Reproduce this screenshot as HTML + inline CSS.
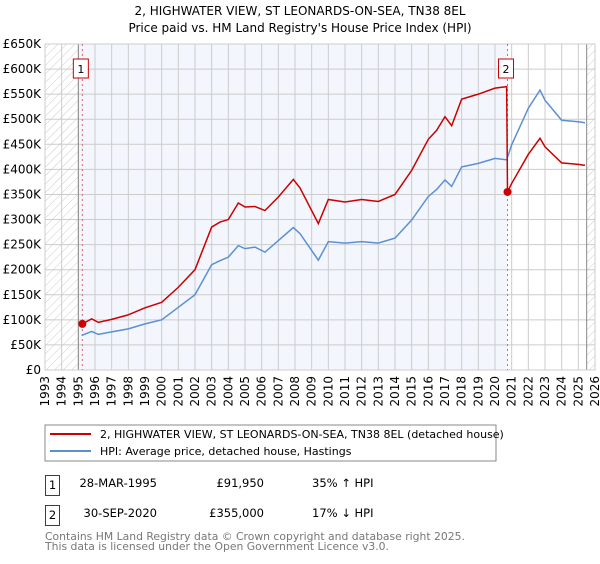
<!DOCTYPE html>
<html><head><meta charset="utf-8"><style>
body{margin:0;background:#fff;font-family:"DejaVu Sans","Liberation Sans",sans-serif;}
svg text{font-family:"DejaVu Sans","Liberation Sans",sans-serif;}
</style></head><body>
<svg id="c" width="600" height="560" viewBox="0 0 600 560" xmlns="http://www.w3.org/2000/svg">
<defs><pattern id="hatch" width="6" height="6" patternUnits="userSpaceOnUse" patternTransform="rotate(45)"><line x1="0" y1="0" x2="0" y2="6" stroke="#ccc" stroke-width="1"/></pattern></defs>
<text x="300" y="15" text-anchor="middle" font-size="12">2, HIGHWATER VIEW, ST LEONARDS-ON-SEA, TN38 8EL</text>
<text x="300" y="32" text-anchor="middle" font-size="12">Price paid vs. HM Land Registry's House Price Index (HPI)</text>
<g id="plot"></g>
<rect x="45" y="425" width="451" height="36" fill="#fff" stroke="#888"/>
<line x1="50" y1="434" x2="91" y2="434" stroke="#cc0000" stroke-width="2"/>
<text x="100" y="438" font-size="11">2, HIGHWATER VIEW, ST LEONARDS-ON-SEA, TN38 8EL (detached house)</text>
<line x1="50" y1="451" x2="91" y2="451" stroke="#5b8fd4" stroke-width="2"/>
<text x="100" y="455" font-size="11">HPI: Average price, detached house, Hastings</text>
<g font-size="11.5">
<rect x="45.5" y="475.5" width="14" height="20" fill="#fff" stroke="#cc0000"/>
<text x="52.5" y="489" text-anchor="middle">1</text>
<text x="157" y="487" text-anchor="end">28-MAR-1995</text>
<text x="264" y="487" text-anchor="end">£91,950</text>
<text x="312" y="487">35% ↑ HPI</text>
<rect x="45.5" y="505.5" width="14" height="20" fill="#fff" stroke="#cc0000"/>
<text x="52.5" y="519" text-anchor="middle">2</text>
<text x="157" y="517" text-anchor="end">30-SEP-2020</text>
<text x="264" y="517" text-anchor="end">£355,000</text>
<text x="312" y="517">17% ↓ HPI</text>
</g>
<text x="45" y="540" font-size="10.8" fill="#777">Contains HM Land Registry data © Crown copyright and database right 2025.</text>
<text x="45" y="550" font-size="10.8" fill="#777">This data is licensed under the Open Government Licence v3.0.</text>
</svg>
<script>
const hpiYears=[1995.2,1995.8,1996.2,1997,1998,1999,2000,2001,2002,2003,2003.5,2004,2004.6,2005,2005.6,2006.2,2007,2007.9,2008.3,2009.4,2010,2011,2012,2013,2014,2015,2016,2016.5,2017,2017.4,2018,2019,2020,2020.7,2021,2022,2022.7,2023,2024,2025,2025.4];
const hpiValues=[69,77,71,76,82,92,100,125,150,210,218,225,248,242,245,235,258,284,272,219,256,253,256,253,263,299,346,360,379,366,405,412,422,419,449,522,558,538,498,495,493];
const redYears=[1995.24,1995.8,1996.2,1997,1998,1999,2000,2001,2002,2003,2003.5,2004,2004.6,2005,2005.6,2006.2,2007,2007.9,2008.3,2009.4,2010,2011,2012,2013,2014,2015,2016,2016.5,2017,2017.4,2018,2019,2020,2020.7,2020.75,2021,2022,2022.7,2023,2024,2025,2025.4];
const redValues=[92,102,95,101,110,124,135,165,200,285,295,300,333,325,326,318,345,380,363,292,340,335,340,336,350,398,460,478,505,487,540,550,562,565,355,372,430,462,445,413,410,408];
const saleYears=[1995.24,2020.75];
const saleValues=[91.95,355];
const yTicks=[0,50,100,150,200,250,300,350,400,450,500,550,600,650];
const yTickLabels=["£0","£50K","£100K","£150K","£200K","£250K","£300K","£350K","£400K","£450K","£500K","£550K","£600K","£650K"];
const xTicks=[];for(let y=1993;y<=2026;y++)xTicks.push(y);

const L=45,R=595,T=44,B=370,x0=1993,x1=2026,yMax=650;
const X=v=>L+(v-x0)/(x1-x0)*(R-L);
const Y=v=>B-v/yMax*(B-T);
const NS="http://www.w3.org/2000/svg";
const g=document.getElementById('plot');
function mk(t,a){const e=document.createElementNS(NS,t);for(const k in a)e.setAttribute(k,a[k]);g.appendChild(e);return e;}
let e;
e=mk('rect',{x:L,y:T,width:R-L,height:B-T,fill:'#fff'});


e=mk('rect',{x:X(1995),y:T,width:X(2020.75)-X(1995),height:B-T,fill:'#f3f6fd'});


e=mk('rect',{x:L,y:T,width:X(1995)-L,height:B-T,fill:'url(#hatch)'});


e=mk('rect',{x:X(2025.5),y:T,width:R-X(2025.5),height:B-T,fill:'url(#hatch)'});


yTicks.forEach((v,i)=>{
 e=mk('line',{x1:L,x2:R,y1:Y(v),y2:Y(v),stroke:'#ccc','stroke-width':1});
 
 
 e=mk('text',{x:L-4,y:Y(v)+4,'text-anchor':'end','font-size':12});
 e.textContent=yTickLabels[i];
 
 
});
xTicks.forEach(v=>{
 e=mk('line',{x1:X(v),x2:X(v),y1:T,y2:B,stroke:'#ccc','stroke-width':1});
 
 
 e=mk('text',{x:0,y:0,'text-anchor':'end','font-size':12,transform:`translate(${X(v)+4},${B+6}) rotate(-90)`});
 e.textContent=v;
 
 
});
e=mk('line',{x1:X(1995),x2:X(1995),y1:T,y2:B,stroke:'#888'});


e=mk('line',{x1:X(2025.5),x2:X(2025.5),y1:T,y2:B,stroke:'#888'});


e=mk('rect',{x:L,y:T,width:R-L,height:B-T,fill:'none',stroke:'#ccc'});


saleYears.forEach((s,i)=>{
 e=mk('line',{x1:X(s),x2:X(s),y1:T,y2:B,stroke:'#e06666','stroke-dasharray':'2,3'});
 
 
});
e=mk('polyline',{points:hpiYears.map((v,i)=>X(v)+','+Y(hpiValues[i])).join(' '),fill:'none',stroke:'#5b8fd4','stroke-width':1.5});


e=mk('polyline',{points:redYears.map((v,i)=>X(v)+','+Y(redValues[i])).join(' '),fill:'none',stroke:'#cc0000','stroke-width':1.5});


saleYears.forEach((s,i)=>{
 e=mk('circle',{cx:X(s),cy:Y(saleValues[i]),r:4,fill:'#cc0000'});
 
 
 const bx=X(s)-2-7;
 e=mk('rect',{x:bx,y:59,width:15,height:19,fill:'#fff',stroke:'#cc0000'});
 
 
 e=mk('text',{x:bx+7.5,y:73,'text-anchor':'middle','font-size':11});
 e.textContent=String(i+1);
 
 
});
</script>
</body></html>
